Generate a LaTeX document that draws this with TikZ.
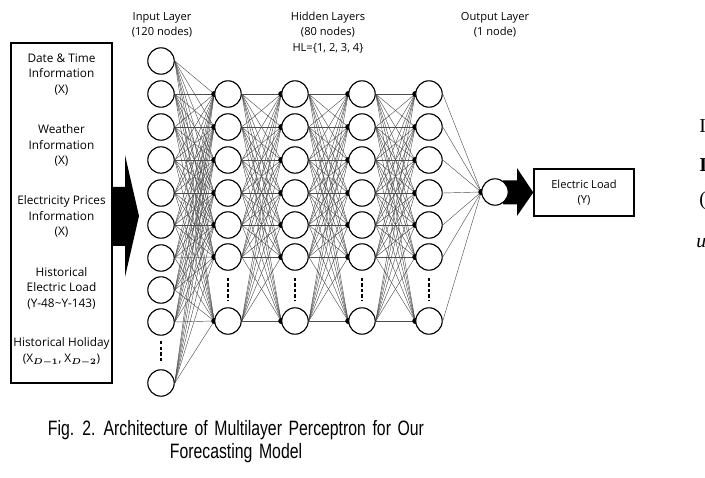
\documentclass[tikz,border=0pt]{standalone}
\usepackage{fontspec}
\usepackage{bm}
\setmainfont{Open Sans}
\newfontfamily\capfont[FakeStretch=0.76,WordSpace=1.5]{Liberation Sans}
\newfontfamily\edgefont{Liberation Serif}
\usetikzlibrary{calc}
\pgfdeclarelayer{back}
\pgfsetlayers{back,main}
\tikzset{
  neuron/.style={circle,draw=black,line width=0.8pt,fill=white,minimum size=0.66cm,inner sep=0pt},
  synapse/.style={black!70,line width=0.3pt},
  vdots/.style={line width=1.1pt,dash pattern=on 2.4pt off 1.6pt},
  infobox/.style={rectangle,draw=black,line width=1pt,fill=white,inner sep=0pt},
  boxtext/.style={align=center,font=\fontsize{8.4}{11}\selectfont},
  laytext/.style={align=center,font=\fontsize{7.9}{11}\selectfont},
}

\begin{document}
\begin{tikzpicture}[x=0.025cm,y=-0.025cm]
  \useasboundingbox (0,0) rectangle (705,478);

  % input box
  \node[infobox,minimum width=2.525cm,minimum height=8.5cm] (feat) at (61.5,213) {};
  \node[boxtext] (dt) at (61.5,74.5) {Date \& Time\\Information\\(X)};
  \node[boxtext] (wt) at (61.5,145.5) {Weather\\Information\\(X)};
  \node[boxtext] (ep) at (61.5,216.5) {Electricity Prices\\Information\\(X)};
  \node[boxtext] (hl) at (61.5,288) {Historical\\Electric Load\\(Y-48\textasciitilde Y-143)};
  \node[boxtext] (hh) at (61.5,352) {Historical Holiday\\(X$_{\bm{D-1}}$, X$_{\bm{D-2}}$)};

  % layers
  \foreach \y [count=\i] in {61,94,127,160,193,225,258,290,322,383}
    \node[neuron] (in\i) at (161,\y) {};
  \foreach \x [count=\l] in {228,295,362,429}
    \foreach \y [count=\i] in {94,127,160,193,225,257,321}
      \node[neuron] (h\l-\i) at (\x,\y) {};
  \node[neuron] (out) at (495,192) {};
  \node[infobox,minimum width=2.5cm,minimum height=1.175cm,laytext] (load) at (584,192.5) {Electric Load\\(Y)};

  % layer titles
  \node[laytext] (inlab) at (162,25) {Input Layer\\(120 nodes)};
  \node[laytext] (hidlab) at (328,32.5) {Hidden Layers\\(80 nodes)\\HL=\{1, 2, 3, 4\}};
  \node[laytext] (outlab) at (495,25) {Output Layer\\(1 node)};

  % skipped nodes
  \draw[vdots] ([yshift=-0.13cm]in9.south) -- ([yshift=0.17cm]in10.north);
  \foreach \l in {1,...,4}
    \draw[vdots] ([yshift=-0.17cm]h\l-6.south) -- ([yshift=0.15cm]h\l-7.north);

  \begin{pgfonlayer}{back}
    % weights
    \foreach \i in {1,...,10}
      \foreach \j in {1,...,7}
        \draw[synapse] (in\i.east) -- (h1-\j.west);
    \foreach \l [evaluate=\l as \m using int(\l+1)] in {1,2,3}
      \foreach \i in {1,...,7}
        \foreach \j in {1,...,7}
          \draw[synapse] (h\l-\i.east) -- (h\m-\j.west);
    \foreach \i in {1,...,7}
      \draw[synapse] (h4-\i.east) -- (out.west);
    \foreach \l in {1,...,4}
      \foreach \j in {1,...,7}
        \fill (h\l-\j.west) circle (0.075cm);
    \fill (out.west) circle (0.075cm);
    % block arrows
    \fill (112,187) -- (125,187) -- (125,155) -- (139,216) -- (125,277) -- (125,246) -- (112,246) -- cycle;
    \fill (503,180.5) -- (517,180.5) -- (517,168) -- (load.west) -- (517,216) -- (517,204.5) -- (503,204.5) -- cycle;
  \end{pgfonlayer}

  % caption
  \node[font=\capfont\fontsize{14.8}{16.4}\selectfont,align=center] (cap) at (236,441.5)
    {Fig. 2. Architecture of Multilayer Perceptron for Our\\Forecasting Model};

  % text at the right edge
  \node[anchor=west,inner sep=0pt,font=\edgefont\fontsize{14}{14}\selectfont] (e1) at (699,126) {I};
  \node[anchor=west,inner sep=0pt,font=\edgefont\bfseries\fontsize{14}{14}\selectfont] (e2) at (699,165) {I};
  \node[anchor=west,inner sep=0pt,font=\edgefont\fontsize{14}{14}\selectfont] (e3) at (699,201) {(};
  \node[anchor=west,inner sep=0pt,font=\edgefont\itshape\fontsize{14}{14}\selectfont] (e4) at (696,243) {u};
\end{tikzpicture}
\end{document}
